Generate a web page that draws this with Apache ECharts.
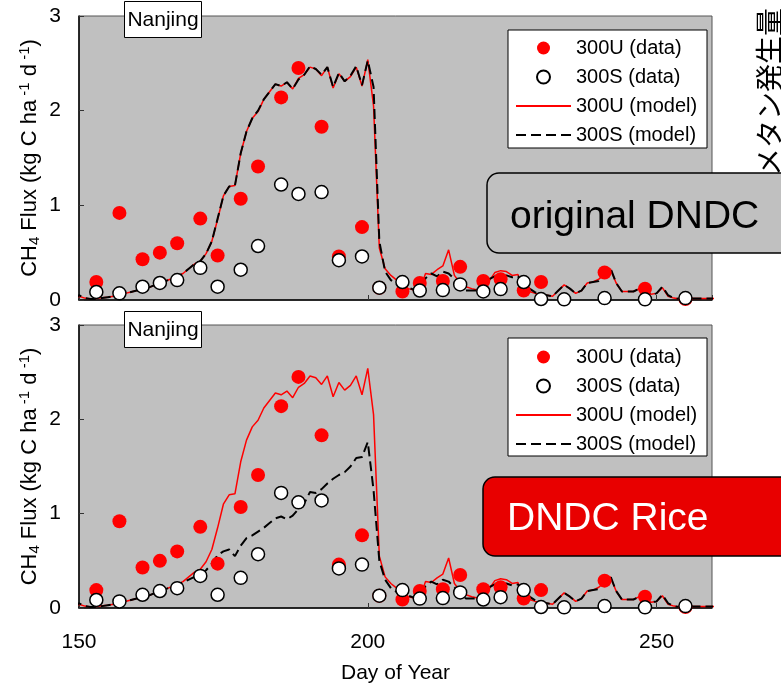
<!DOCTYPE html>
<html>
<head>
<meta charset="utf-8">
<script src="https://cdn.jsdelivr.net/npm/echarts@6/dist/echarts.min.js"></script>
<style>
  html, body { margin: 0; padding: 0; background: #fff; }
  #chart { width: 781px; height: 688px; }
</style>
</head>
<body>
<div id="chart"></div>
<script>
const FONT = '"Liberation Sans", Arial, sans-serif';

// daily model output, day 149 .. 261
const modelDays = Array.from({ length: 113 }, (_, i) => 149 + i);

const u300Model = [
  0.00, 0.04, 0.02, 0.01, 0.015, 0.025, 0.03, 0.04, 0.05, 0.07,
  0.085, 0.10, 0.115, 0.13, 0.155, 0.18, 0.20, 0.225, 0.25, 0.28,
  0.33, 0.38, 0.41, 0.49, 0.62, 0.85, 1.10, 1.20, 1.21, 1.55,
  1.78, 1.92, 1.99, 2.12, 2.20, 2.28, 2.26, 2.30, 2.23, 2.34,
  2.38, 2.46, 2.44, 2.37, 2.46, 2.24, 2.39, 2.31, 2.36, 2.46,
  2.26, 2.54, 2.05, 0.55, 0.33, 0.26, 0.21, 0.16, 0.12, 0.105,
  0.105, 0.28, 0.27, 0.32, 0.36, 0.53, 0.26, 0.18, 0.14, 0.12,
  0.105, 0.10, 0.20, 0.29, 0.31, 0.30, 0.26, 0.27, 0.13, 0.09,
  0.07, 0.055, 0.05, 0.04, 0.10, 0.16, 0.12, 0.07, 0.10, 0.18,
  0.19, 0.22, 0.27, 0.33, 0.18, 0.09, 0.09, 0.09, 0.12, 0.12,
  0.06, 0.07, 0.13, 0.04, 0.02, 0.01, 0.01, 0.015, 0.015, 0.015,
  0.015, 0.015, 0.015
];

const s300ModelOriginal = [
  0.00, 0.05, 0.02, 0.01, 0.01, 0.02, 0.03, 0.04, 0.05, 0.07,
  0.085, 0.10, 0.115, 0.13, 0.155, 0.18, 0.20, 0.225, 0.25, 0.28,
  0.33, 0.38, 0.41, 0.49, 0.62, 0.86, 1.10, 1.20, 1.21, 1.55,
  1.78, 1.92, 2.00, 2.12, 2.20, 2.28, 2.26, 2.30, 2.23, 2.33,
  2.38, 2.47, 2.44, 2.38, 2.46, 2.25, 2.40, 2.31, 2.37, 2.47,
  2.27, 2.53, 2.25, 0.62, 0.30, 0.21, 0.17, 0.15, 0.13, 0.11,
  0.10, 0.23, 0.28, 0.25, 0.30, 0.28, 0.22, 0.15, 0.10, 0.10,
  0.10, 0.10, 0.22, 0.25, 0.25, 0.26, 0.24, 0.25, 0.17, 0.12,
  0.08, 0.06, 0.05, 0.04, 0.10, 0.16, 0.12, 0.07, 0.10, 0.18,
  0.19, 0.20, 0.26, 0.34, 0.18, 0.09, 0.09, 0.09, 0.12, 0.12,
  0.06, 0.07, 0.14, 0.05, 0.02, 0.01, 0.01, 0.015, 0.015, 0.015,
  0.015, 0.015, 0.015
];

const s300ModelRice = [
  0.00, 0.05, 0.02, 0.01, 0.01, 0.02, 0.03, 0.04, 0.05, 0.07,
  0.085, 0.10, 0.115, 0.13, 0.155, 0.18, 0.20, 0.225, 0.25,
  0.27, 0.30, 0.33, 0.35, 0.40, 0.47, 0.56, 0.60, 0.62, 0.55,
  0.66, 0.74, 0.77, 0.81, 0.85, 0.90, 0.95, 0.97, 0.94, 0.98,
  1.05, 1.11, 1.23, 1.22, 1.26, 1.32, 1.37, 1.41, 1.44, 1.50,
  1.59, 1.60, 1.76, 1.25, 0.50, 0.30, 0.21,
  0.17, 0.15, 0.13, 0.11,
  0.10, 0.23, 0.28, 0.25, 0.30, 0.28, 0.22, 0.15, 0.10, 0.10,
  0.10, 0.10, 0.22, 0.25, 0.25, 0.26, 0.24, 0.25, 0.17, 0.12,
  0.08, 0.06, 0.05, 0.04, 0.10, 0.16, 0.12, 0.07, 0.10, 0.18,
  0.19, 0.20, 0.26, 0.34, 0.18, 0.09, 0.09, 0.09, 0.12, 0.12,
  0.06, 0.07, 0.14, 0.05, 0.02, 0.01, 0.01, 0.015, 0.015, 0.015,
  0.015, 0.015, 0.015
];

// measured fluxes
const u300DataDays = [153, 157, 161, 164, 167, 171, 174, 178, 181, 185, 188, 192, 195, 199, 202, 206, 209, 213, 216, 220, 223, 227, 230, 241, 248, 255];
const u300Data = [0.19, 0.92, 0.43, 0.50, 0.60, 0.86, 0.47, 1.07, 1.41, 2.14, 2.45, 1.83, 0.46, 0.77, 0.13, 0.09, 0.18, 0.20, 0.35, 0.20, 0.22, 0.10, 0.19, 0.29, 0.12, 0.01];
const s300DataDays = [153, 157, 161, 164, 167, 171, 174, 178, 181, 185, 188, 192, 195, 199, 202, 206, 209, 213, 216, 220, 223, 227, 230, 234, 241, 248, 255];
const s300Data = [0.085, 0.07, 0.14, 0.18, 0.21, 0.34, 0.14, 0.32, 0.57, 1.22, 1.12, 1.14, 0.42, 0.46, 0.13, 0.19, 0.10, 0.105, 0.165, 0.09, 0.115, 0.19, 0.01, 0.007, 0.02, 0.007, 0.02];

const xTicks = [150, 200, 250];
const legendNames = ['300U (data)', '300S (data)', '300U (model)', '300S (model)'];
const panelTags = ['original DNDC', 'DNDC Rice'];
const siteName = 'Nanjing';
const sideLabel = 'メタン発生量';

const zip = (xs, ys) => xs.map((x, i) => [x, ys[i]]);

const grids = [
  { left: 79, top: 16, width: 633, height: 284 },
  { left: 79, top: 325, width: 633, height: 283 },
];

const chart = echarts.init(document.getElementById('chart'));

const yName = '{n|CH}{s|4}{n| Flux (kg C ha}{p| -1}{n| d}{p| -1}{n|)}';

// line entries in the legend: no marker in the middle of the line
const legendData = legendNames.map((name) =>
  name.includes('model') ? { name, itemStyle: { opacity: 0 } } : { name }
);

const option = {
  animation: false,
  textStyle: { fontFamily: FONT },
  grid: grids.map((g) => ({
    ...g,
    show: true,
    backgroundColor: '#c0c0c0',
    borderColor: '#555',
    borderWidth: 1,
    containLabel: false,
    outerBoundsMode: 'none',
  })),
  xAxis: grids.map((g, i) => ({
    gridIndex: i,
    type: 'value',
    min: 150,
    max: 259.6,
    interval: 50,
    axisLine: { show: true, lineStyle: { color: '#000', width: 1.5 } },
    axisTick: { show: true, inside: true, length: 5, lineStyle: { color: '#333' } },
    axisLabel: {
      show: i === 1,
      fontSize: 21,
      color: '#000',
      fontFamily: FONT,
      margin: 24,
      showMaxLabel: false,
      formatter: (v) => (xTicks.includes(v) ? String(v) : ''),
    },
    splitLine: { show: false },
    name: i === 1 ? 'Day of Year' : '',
    nameLocation: 'middle',
    nameGap: 55,
    nameMoveOverlap: false,
    nameTextStyle: { fontSize: 21, color: '#000', fontFamily: FONT },
  })),
  yAxis: grids.map((g, i) => ({
    gridIndex: i,
    type: 'value',
    min: 0,
    max: 3,
    interval: 1,
    axisLine: { show: true, lineStyle: { color: '#000', width: 1.5 } },
    axisTick: { show: true, inside: true, length: 5, lineStyle: { color: '#333' } },
    axisLabel: { fontSize: 21, color: '#000', fontFamily: FONT, margin: 18 },
    splitLine: { show: false },
    name: yName,
    nameLocation: 'middle',
    nameRotate: 90,
    nameGap: 37,
    nameMoveOverlap: false,
    nameTextStyle: {
      color: '#000',
      fontFamily: FONT,
      rich: {
        n: { fontSize: 22, lineHeight: 25, fontFamily: FONT, color: '#000' },
        s: { fontSize: 15, lineHeight: 15, verticalAlign: 'bottom', fontFamily: FONT, color: '#000' },
        p: { fontSize: 15, lineHeight: 15, verticalAlign: 'top', fontFamily: FONT, color: '#000' },
      },
    },
  })),
  legend: grids.map((g, i) => ({
    data: legendData,
    orient: 'vertical',
    left: 515,
    top: 38 + i * 309,
    itemWidth: 55,
    itemHeight: 13,
    itemGap: 9,
    padding: 0,
    selectedMode: false,
    textStyle: { fontSize: 20, color: '#000', fontFamily: FONT, lineHeight: 20 },
  })),
  series: grids.flatMap((g, i) => [
    {
      name: '300U (model)',
      type: 'line',
      xAxisIndex: i,
      yAxisIndex: i,
      data: zip(modelDays, u300Model),
      symbol: 'none',
      clip: false,
      z: 2,
      itemStyle: { color: '#ff0000' },
      lineStyle: { color: '#ff0000', width: 1.5 },
    },
    {
      name: '300S (model)',
      type: 'line',
      xAxisIndex: i,
      yAxisIndex: i,
      data: zip(modelDays, i === 0 ? s300ModelOriginal : s300ModelRice),
      symbol: 'none',
      clip: false,
      z: 3,
      itemStyle: { color: '#000' },
      lineStyle: { color: '#000', width: 2, type: [10, 5] },
    },
    {
      name: '300U (data)',
      type: 'scatter',
      xAxisIndex: i,
      yAxisIndex: i,
      data: zip(u300DataDays, u300Data),
      symbol: 'circle',
      symbolSize: 14,
      z: 4,
      itemStyle: { color: '#ff0000', opacity: 1 },
    },
    {
      name: '300S (data)',
      type: 'scatter',
      xAxisIndex: i,
      yAxisIndex: i,
      data: zip(s300DataDays, s300Data),
      symbol: 'circle',
      symbolSize: 13,
      z: 5,
      itemStyle: { color: '#fff', borderColor: '#000', borderWidth: 1.5, opacity: 1 },
    },
  ]),
  graphic: [
    // legend frames
    ...[30, 338].map((y) => ({
      type: 'rect',
      z: 1,
      shape: { x: 508, y: y, width: 199, height: 118 },
      style: { fill: '#fff', stroke: '#000', lineWidth: 1 },
    })),
    // site name boxes
    ...[1, 311].flatMap((y) => [
      {
        type: 'rect',
        z: 10,
        shape: { x: 124.5, y: y + 0.5, width: 77, height: 36 },
        style: { fill: '#fff', stroke: '#000', lineWidth: 1 },
      },
      {
        type: 'text',
        z: 11,
        x: 163,
        y: y + 19,
        style: {
          text: siteName, fontSize: 21, fontFamily: FONT, fill: '#000',
          align: 'center', verticalAlign: 'middle', textAlign: 'center', textVerticalAlign: 'middle',
        },
      },
    ]),
    // model tags
    {
      type: 'rect',
      z: 10,
      shape: { x: 487, y: 173, width: 320, height: 80, r: 12 },
      style: { fill: '#c0c0c0', stroke: '#000', lineWidth: 1.5 },
    },
    {
      type: 'text',
      z: 11,
      x: 510,
      y: 217,
      style: {
        text: panelTags[0], fontSize: 39, fontFamily: FONT, fill: '#000',
        align: 'left', verticalAlign: 'middle', textAlign: 'left', textVerticalAlign: 'middle',
      },
    },
    {
      type: 'rect',
      z: 10,
      shape: { x: 483, y: 477, width: 320, height: 79, r: 12 },
      style: { fill: '#e80000', stroke: '#000', lineWidth: 1.5 },
    },
    {
      type: 'text',
      z: 11,
      x: 507,
      y: 519,
      style: {
        text: panelTags[1], fontSize: 39, fontFamily: FONT, fill: '#fff',
        align: 'left', verticalAlign: 'middle', textAlign: 'left', textVerticalAlign: 'middle',
      },
    },
    // clipped side caption
    {
      type: 'text',
      z: 11,
      x: 769,
      y: 176,
      rotation: Math.PI / 2,
      style: {
        text: sideLabel, fontSize: 28, fontFamily: '"Noto Sans CJK JP", sans-serif', fill: '#000',
        align: 'left', verticalAlign: 'middle', textAlign: 'left', textVerticalAlign: 'middle',
      },
    },
  ],
};

chart.setOption(option);
</script>
</body>
</html>
